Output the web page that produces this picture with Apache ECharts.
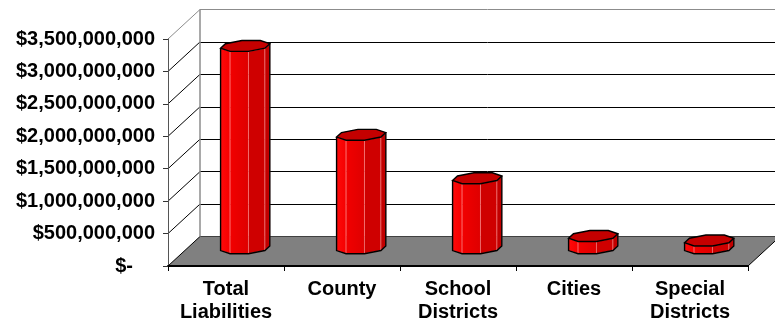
<!DOCTYPE html>
<html><head><meta charset="utf-8">
<script src="https://cdn.jsdelivr.net/npm/echarts@6/dist/echarts.min.js"></script>
<style>html,body{margin:0;padding:0;background:#fff}#c{width:775px;height:324px}</style>
</head><body><div id="c"></div>
<script>
// ---- data ----
const categories = ['Total\nLiabilities', 'County', 'School\nDistricts', 'Cities', 'Special\nDistricts'];
const liabilities = [3.12e9, 1.75e9, 1.08e9, 0.19e9, 0.12e9];
const yTicks = [0, 5e8, 1e9, 1.5e9, 2e9, 2.5e9, 3e9, 3.5e9];
const yMin = 0, yMax = 3.5e9, yStep = 5e8;

// ---- style / layout constants ----
const DX = 32, DY = -29.5;           // oblique depth offset of the 3D box
const FONT = '"Liberation Sans", Arial, sans-serif';

function commas(v) { return String(Math.round(v)).replace(/\B(?=(\d{3})+(?!\d))/g, ','); }
function fmtY(v) { return v === 0 ? '{z|$-}' : '$' + commas(v); }

function renderWalls(params, api) {
  const cs = params.coordSys;
  const gx = cs.x, gw = cs.width;
  const y0 = api.coord([0, yMin])[1];
  const yt = api.coord([0, yMax])[1];
  const ch = [];
  ch.push({ type: 'polygon', shape: { points: [[gx, y0], [gx + gw, y0], [gx + gw + DX, y0 + DY], [gx + DX, y0 + DY]] },
            style: { fill: '#808080' } });
  ch.push({ type: 'line', shape: { x1: gx + gw, y1: y0, x2: gx + gw + DX, y2: y0 + DY }, style: { stroke: '#000', lineWidth: 1 } });
  yTicks.forEach(function (v, i) {
    const y = api.coord([0, v])[1];
    ch.push({ type: 'line', shape: { x1: gx, y1: y, x2: gx + DX, y2: y + DY },
              style: { stroke: i === yTicks.length - 1 ? '#8c8c8c' : '#000', lineWidth: 1 } });
  });
  ch.push({ type: 'line', shape: { x1: gx + DX, y1: yt + DY, x2: gx + DX, y2: y0 + DY }, style: { stroke: '#8c8c8c', lineWidth: 1.5 } });
  return { type: 'group', children: ch };
}

function faceFill(ang) {
  if (ang === 225) return { type: 'linear', x: 0, y: 0, x2: 1, y2: 0, colorStops: [{ offset: 0, color: '#ff0a0a' }, { offset: 1, color: '#f40000' }] };
  if (ang === 270) return { type: 'linear', x: 0, y: 0, x2: 1, y2: 0, colorStops: [{ offset: 0, color: '#f20000' }, { offset: 1, color: '#de0000' }] };
  if (ang === 315) return '#cf0000';
  return '#c20000';
}

function renderBar(params, api) {
  const i = api.value(0), v = api.value(1);
  const b = api.coord([i, yMin]), t = api.coord([i, v]);
  const dc = 0.6, r = 24, rd = 0.2;
  const cx = b[0] + dc * DX, by = b[1] + dc * DY, ty = t[1] + dc * DY;
  const off = [];
  for (let k = 0; k < 8; k++) {
    const th = (k * 45 + 22.5) * Math.PI / 180;
    const u = r * Math.cos(th), w = rd * Math.sin(th);
    off.push([cx + u + w * DX, w * DY]);
  }
  const base = off.map(p => [p[0], by + p[1]]);
  const top = off.map(p => [p[0], ty + p[1]]);
  const ch = [];
  for (let k = 0; k < 8; k++) {
    const n = (k + 1) % 8;
    if (base[n][0] > base[k][0] + 0.01) {
      const ang = (k * 45 + 45) % 360;
      ch.push({ type: 'polygon', shape: { points: [base[k], base[n], top[n], top[k]] },
                style: { fill: faceFill(ang), stroke: 'rgba(255,150,150,0.75)', lineWidth: 0.7 } });
    }
  }
  ch.push({ type: 'polygon', shape: { points: top }, style: { fill: '#c40000', stroke: '#000', lineWidth: 1.4 } });
  ch.push({ type: 'polyline', shape: { points: [top[4], base[4], base[5], base[6], base[7], base[0], top[0]] },
            style: { fill: null, stroke: '#000', lineWidth: 1.4 } });
  return { type: 'group', children: ch };
}

const chart = echarts.init(document.getElementById('c'), null, { renderer: 'canvas' });
const splitColors = yTicks.map((v, i) => i === yTicks.length - 1 ? '#8c8c8c' : '#000');
const lbl = { fontSize: 20, fontWeight: 'bold', fontFamily: FONT, color: '#000' };
chart.setOption({
  animation: false,
  backgroundColor: '#fff',
  grid: [
    { left: 168 + DX, right: 27 - DX, top: 39 + DY, height: 227 },
    { left: 168, right: 27, top: 39, height: 227 }
  ],
  xAxis: [
    { gridIndex: 0, type: 'category', data: categories, show: false },
    { gridIndex: 1, type: 'category', data: categories, z: 10,
      axisLine: { show: true, lineStyle: { color: '#000', width: 2 } },
      axisTick: { show: true, length: 5, lineStyle: { color: '#000', width: 1 } },
      axisLabel: Object.assign({ interval: 0, margin: 12, lineHeight: 23 }, lbl) }
  ],
  yAxis: [
    { gridIndex: 0, type: 'value', min: yMin, max: yMax, interval: yStep,
      axisLine: { show: false }, axisTick: { show: false }, axisLabel: { show: false },
      splitLine: { show: true, lineStyle: { color: splitColors, width: 1 } } },
    { gridIndex: 1, type: 'value', min: yMin, max: yMax, interval: yStep, z: 10,
      axisLine: { show: true, lineStyle: { color: '#555', width: 1 } },
      axisTick: { show: true, length: 5, lineStyle: { color: '#333', width: 1 } },
      splitLine: { show: false },
      axisLabel: Object.assign({ margin: 13, formatter: fmtY,
        rich: { z: Object.assign({ padding: [0, 22, 0, 0] }, lbl) } }, lbl) }
  ],
  series: [
    { type: 'custom', xAxisIndex: 1, yAxisIndex: 1, renderItem: renderWalls, data: [[0, 0]], silent: true, z: 1 },
    { type: 'custom', xAxisIndex: 1, yAxisIndex: 1, renderItem: renderBar, silent: true, z: 3,
      data: liabilities.map((v, i) => [i, v]), encode: { x: 0, y: 1 } }
  ]
});
</script>
</body></html>
